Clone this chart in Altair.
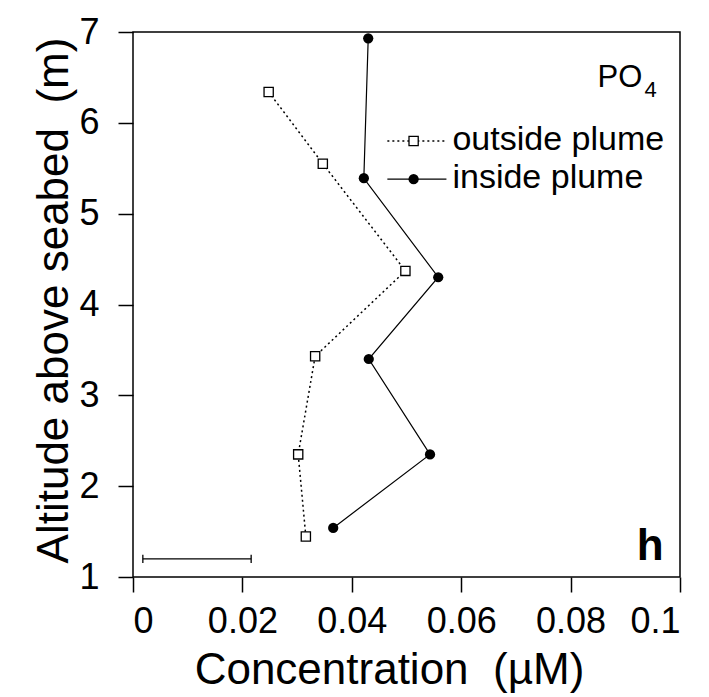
import altair as alt
import pandas as pd

# Data
outside_conc = [0.0316, 0.0302, 0.0333, 0.0498, 0.0347, 0.0248]
outside_alt = [1.445, 2.35, 3.43, 4.37, 5.55, 6.34]
inside_conc = [0.0366, 0.0543, 0.0431, 0.0558, 0.0422, 0.0430]
inside_alt = [1.54, 2.35, 3.40, 4.30, 5.39, 6.93]

x_ticks = [0, 0.02, 0.04, 0.06, 0.08, 0.1]
y_ticks = [1, 2, 3, 4, 5, 6, 7]

# annotation anchors (data coords)
scalebar_x = [0.0018, 0.0216]
scalebar_y = 1.2
legend_line_x = [0.0465, 0.0573]
legend_marker_x = 0.0513
legend_text_x = 0.0584
legend_y = [5.80, 5.38]
legend_labels = ["outside plume", "inside plume"]

FONT = "Liberation Sans"
NBSP = "\u00a0"

df_out = pd.DataFrame({"conc": outside_conc, "alt": outside_alt, "o": range(len(outside_conc))})
df_in = pd.DataFrame({"conc": inside_conc, "alt": inside_alt, "o": range(len(inside_conc))})

xs = alt.Scale(domain=[0, 0.1], nice=False, zero=False)
ys = alt.Scale(domain=[1, 7], nice=False, zero=False)

X = alt.X("conc:Q", scale=xs,
          axis=alt.Axis(values=x_ticks, format=".2~f", title="Concentration" + NBSP + " (µM)",
                        labelPadding=12, titlePadding=9, titleX=256))
Y = alt.Y("alt:Q", scale=ys,
          axis=alt.Axis(values=y_ticks, format="d", title="Altitude above seabed" + NBSP + " (m)",
                        labelPadding=19, titlePadding=2, titleY=268))

out_line = alt.Chart(df_out).mark_line(color="black", strokeWidth=1.5, strokeDash=[2, 3]).encode(
    x=X, y=Y, order="o:O")
out_pts = alt.Chart(df_out).mark_point(shape="square", filled=True, fill="white", stroke="black",
                                       strokeWidth=1.3, size=85, opacity=1).encode(x=X, y=Y)
in_line = alt.Chart(df_in).mark_line(color="black", strokeWidth=1.2).encode(x=X, y=Y, order="o:O")
in_pts = alt.Chart(df_in).mark_point(shape="circle", filled=True, color="black", size=105, opacity=1).encode(x=X, y=Y)

# Legend
leg_lines = pd.DataFrame({"x1": [legend_line_x[0]] * 2, "x2": [legend_line_x[1]] * 2,
                          "y": legend_y, "series": legend_labels})
leg_out_line = alt.Chart(leg_lines.iloc[[0]]).mark_rule(color="black", strokeWidth=1.5, strokeDash=[2, 3]).encode(
    x=alt.X("x1:Q", scale=xs), x2="x2:Q", y=alt.Y("y:Q", scale=ys))
leg_in_line = alt.Chart(leg_lines.iloc[[1]]).mark_rule(color="black", strokeWidth=1.2).encode(
    x=alt.X("x1:Q", scale=xs), x2="x2:Q", y=alt.Y("y:Q", scale=ys))
leg_marks = pd.DataFrame({"x": [legend_marker_x] * 2, "y": legend_y})
leg_sq = alt.Chart(leg_marks.iloc[[0]]).mark_point(shape="square", filled=True, fill="white", stroke="black",
                                                   strokeWidth=1.3, size=85, opacity=1).encode(
    x=alt.X("x:Q", scale=xs), y=alt.Y("y:Q", scale=ys))
leg_ci = alt.Chart(leg_marks.iloc[[1]]).mark_point(shape="circle", filled=True, color="black", size=105, opacity=1).encode(
    x=alt.X("x:Q", scale=xs), y=alt.Y("y:Q", scale=ys))
leg_text_df = pd.DataFrame({"x": [legend_text_x] * 2, "y": legend_y, "t": legend_labels})
leg_text = alt.Chart(leg_text_df).mark_text(align="left", baseline="middle", font=FONT, fontSize=34,
                                            color="black", dy=-1).encode(
    x=alt.X("x:Q", scale=xs), y=alt.Y("y:Q", scale=ys), text="t:N")

# PO4 label and panel letter
po_df = pd.DataFrame({"x": [0.0931], "y": [6.39], "t": ["PO"]})
po = alt.Chart(po_df).mark_text(align="right", baseline="alphabetic", font=FONT, fontSize=31,
                                color="black").encode(
    x=alt.X("x:Q", scale=xs), y=alt.Y("y:Q", scale=ys), text="t:N")
sub_df = pd.DataFrame({"x": [0.0935], "y": [6.28], "t": ["4"]})
sub = alt.Chart(sub_df).mark_text(align="left", baseline="alphabetic", font=FONT, fontSize=22,
                                  color="black").encode(
    x=alt.X("x:Q", scale=xs), y=alt.Y("y:Q", scale=ys), text="t:N")
h_df = pd.DataFrame({"x": [0.0921], "y": [1.185], "t": ["h"]})
hlab = alt.Chart(h_df).mark_text(align="left", baseline="alphabetic", font=FONT, fontSize=44,
                                 fontWeight="bold", color="black").encode(
    x=alt.X("x:Q", scale=xs), y=alt.Y("y:Q", scale=ys), text="t:N")

# scale bar
sb_df = pd.DataFrame({"x1": [scalebar_x[0]], "x2": [scalebar_x[1]], "y": [scalebar_y]})
sb = alt.Chart(sb_df).mark_rule(color="black", strokeWidth=1.3).encode(
    x=alt.X("x1:Q", scale=xs), x2="x2:Q", y=alt.Y("y:Q", scale=ys))
cap_df = pd.DataFrame({"x": scalebar_x, "y1": [scalebar_y - 0.045] * 2, "y2": [scalebar_y + 0.045] * 2})
caps = alt.Chart(cap_df).mark_rule(color="black", strokeWidth=1.3).encode(
    x=alt.X("x:Q", scale=xs), y=alt.Y("y1:Q", scale=ys), y2="y2:Q")

chart = alt.layer(
    out_line, in_line, out_pts, in_pts,
    leg_out_line, leg_in_line, leg_sq, leg_ci, leg_text,
    po, sub, hlab, sb, caps,
).properties(
    width=547, height=545,
    autosize=alt.AutoSizeParams(type="none"),
    padding={"left": 125, "top": 24, "right": 20, "bottom": 120},
    background="white",
).configure_view(
    stroke="black", strokeWidth=1.5
).configure_axis(
    grid=False, domain=False,
    tickColor="black", tickWidth=1.5, tickSize=15,
    labelColor="black", labelFont=FONT, labelFontSize=36,
    titleColor="black", titleFont=FONT, titleFontSize=44, titleFontWeight="normal",
)

chart.save("out.html", embed_options={"renderer": "svg", "actions": False})
